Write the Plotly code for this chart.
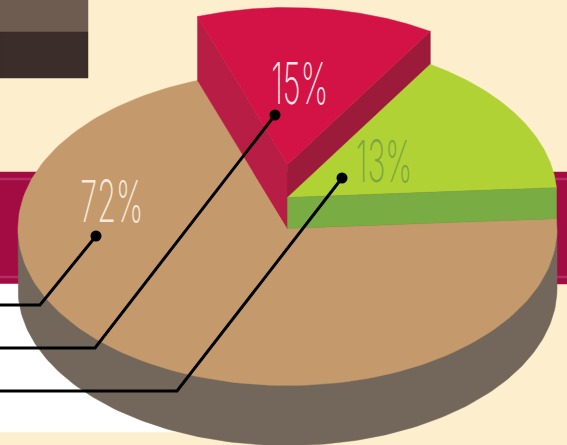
import numpy as np
import plotly.graph_objects as go

# Values
categories = ["Tan", "Red", "Green"]
labels = ["72%", "15%", "13%"]
slice_degrees = [254.1, 51.5, 54.4]   # drawn angular size, tan / red / green
label_xy = [(111.5, 200.5), (299.5, 82.5), (384, 160.5)]
label_widths = [63, 57, 56]
leader_x = [[96, 40, 0], [275, 95, 0], [342, 177, 0]]
leader_y = [[236, 305, 305], [115, 348, 348], [178, 391, 391]]

W, H = 567, 445
CX, CY, RX, RY = 287.5, 228.5, 269.5, 157.0
DEPTH = 60
LIFT_RED, LIFT_GREEN = 64, 31
START = 3.6

BG = "#fdefcd"
TAN, SIDE = "#c49a6c", "#73665a"
RED, RED_L, RED_R = "#d31245", "#b81e45", "#9c1b3a"
GREEN, GREEN_W = "#b0d235", "#79ac42"
LABEL_COL = ["#f8ebdd", "#fde6e8", "#7aa543"]


def ept(t, dy=0.0):
    t = np.radians(t)
    return CX + RX * np.cos(t), CY - RY * np.sin(t) + dy


def arc(a, b, dy=0.0, n=160):
    ts = np.linspace(a, b, n)
    return [ept(t, dy)[0] for t in ts], [ept(t, dy)[1] for t in ts]


fig = go.Figure()


def poly(xs, ys, color):
    fig.add_trace(go.Scatter(x=list(xs) + [xs[0]], y=list(ys) + [ys[0]], mode="lines",
                             fill="toself", fillcolor=color, line=dict(width=0.5, color=color),
                             hoverinfo="skip", showlegend=False))


def rect(x0, y0, x1, y1, color):
    poly([x0, x1, x1, x0], [y0, y0, y1, y1], color)


# backdrop blocks
rect(0, 0, 88, 32, "#6e5c50")
rect(0, 32, 88, 78, "#3b2e2a")
rect(0, 172, W, 284, "#a20c42")
rect(0, 178, W, 180, "#b62c64")
rect(0, 276, W, 278, "#b62c64")
rect(0, 284, 220, 432, "#ffffff")

green_a, green_b = START, START + slice_degrees[2]
red_a, red_b = green_b, green_b + slice_degrees[1]
tan_a, tan_b = red_b, red_b + slice_degrees[0]

# disk side
sx, sy = arc(180, 360, DEPTH)
poly([ept(180)[0]] + sx + [ept(0)[0]], [CY] + sy + [CY], SIDE)

# tan slice
tx, ty = arc(tan_a, tan_b)
poly([CX] + tx, [CY] + ty, TAN)

# red walls and top
lx, ly = ept(red_b)
poly([CX, lx, lx, CX], [CY - LIFT_RED, ly - LIFT_RED, ly, CY], RED_L)
rx_, ry_ = ept(red_a)
poly([CX, rx_, rx_, CX], [CY - LIFT_RED, ry_ - LIFT_RED, ry_, CY], RED_R)
rax, ray = arc(red_a, red_b, -LIFT_RED)
poly([CX] + rax, [CY - LIFT_RED] + ray, RED)

# green top and wall
gax, gay = arc(green_a, green_b, -LIFT_GREEN)
poly([CX] + gax, [CY - LIFT_GREEN] + gay, GREEN)
ex, ey = ept(green_a)
poly([CX, ex, ex, CX], [CY - LIFT_GREEN, ey - LIFT_GREEN, ey, CY], GREEN_W)

# leaders and dots
for xs, ys in zip(leader_x, leader_y):
    fig.add_trace(go.Scatter(x=xs, y=ys, mode="lines", line=dict(color="#000000", width=3),
                             hoverinfo="skip", showlegend=False))
    fig.add_trace(go.Scatter(x=[xs[0]], y=[ys[0]], mode="markers",
                             marker=dict(color="#000000", size=11),
                             hoverinfo="skip", showlegend=False))

annotations = [dict(x=p[0], y=p[1], text=t, showarrow=False, xanchor="center", yanchor="middle",
                    font=dict(family="Inter, Liberation Sans Narrow", size=58, color=c, weight=200))
               for p, t, c in zip(label_xy, labels, LABEL_COL)]

fig.update_layout(
    width=W, height=H, margin=dict(l=0, r=0, t=0, b=0), autosize=False,
    paper_bgcolor=BG, plot_bgcolor=BG, showlegend=False, annotations=annotations,
    xaxis=dict(range=[0, W], visible=False, fixedrange=True),
    yaxis=dict(range=[H, 0], visible=False, fixedrange=True),
)

post = """
var w = %s;
document.querySelectorAll('.annotation-text').forEach(function(el, i){
  el.setAttribute('textLength', w[i]);
  el.setAttribute('lengthAdjust', 'spacingAndGlyphs');
});
document.body.style.margin = '0';
""" % (label_widths,)

fig.write_html("out.html", post_script=post, config=dict(displayModeBar=False))
